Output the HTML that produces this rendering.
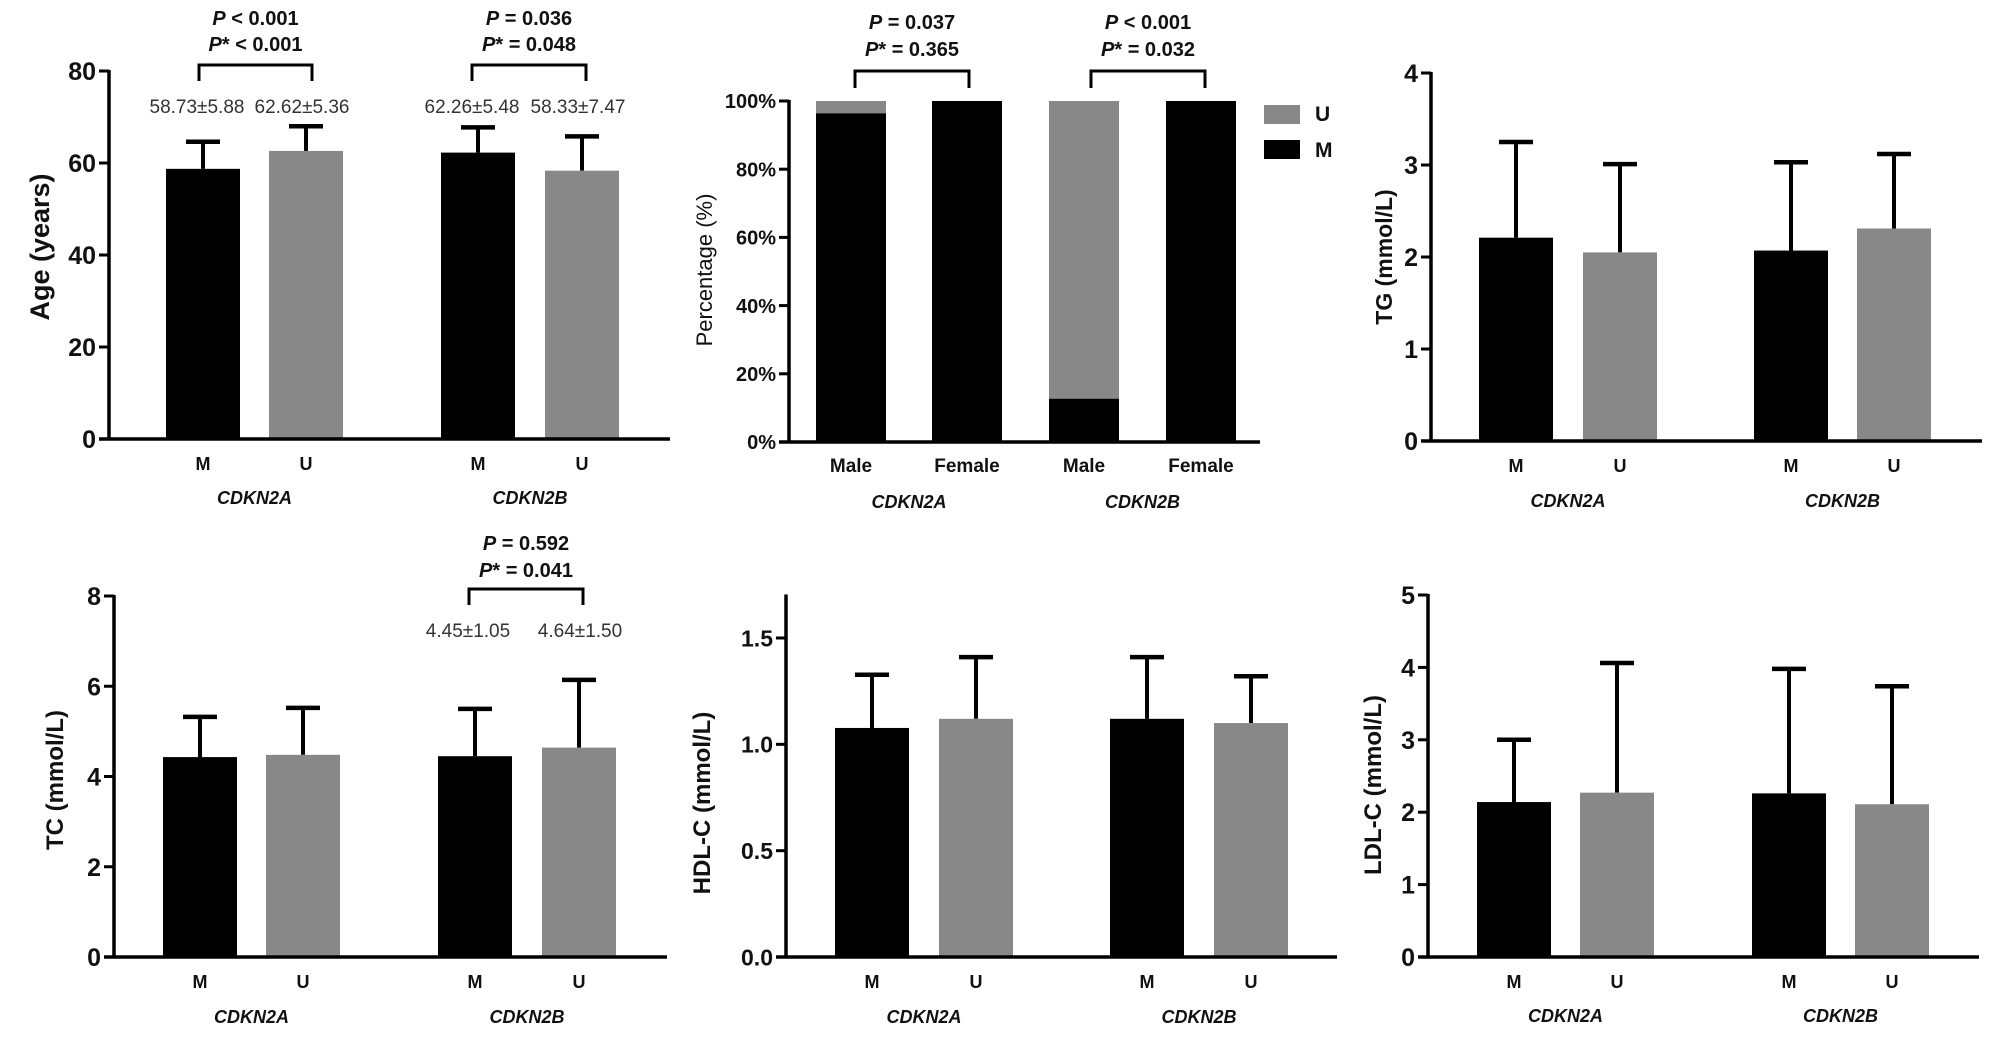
<!DOCTYPE html>
<html><head><meta charset="utf-8">
<style>
html,body{margin:0;padding:0;background:#fff;}
svg{display:block;font-family:"Liberation Sans",Arial,sans-serif;}
</style></head>
<body>
<svg id="fig" width="2008" height="1051" viewBox="0 0 2008 1051" xmlns="http://www.w3.org/2000/svg"></svg>
<script>
// ---- data ----
const groupCats = ["M","U","M","U"];
const geneCats = ["CDKN2A","CDKN2B"];
const ageMean = [58.73, 62.62, 62.26, 58.33];
const ageSD = [5.88, 5.36, 5.48, 7.47];
const ageTicks = [0,20,40,60,80];
const ageLabels = ["58.73±5.88","62.62±5.36","62.26±5.48","58.33±7.47"];
const sexCats = ["Male","Female","Male","Female"];
const pctM = [96.4, 100, 12.7, 100];
const pctTicks = [0,20,40,60,80,100];
const tgMean = [2.21, 2.05, 2.07, 2.31];
const tgSD = [1.04, 0.96, 0.96, 0.81];
const tgTicks = [0,1,2,3,4];
const tcMean = [4.43, 4.48, 4.45, 4.64];
const tcSD = [0.89, 1.04, 1.05, 1.50];
const tcTicks = [0,2,4,6,8];
const tcLabels = ["4.45±1.05","4.64±1.50"];
const hdlMean = [1.077, 1.12, 1.12, 1.10];
const hdlSD = [0.25, 0.29, 0.29, 0.22];
const hdlTicks = [0,0.5,1.0,1.5];
const hdlTickLabels = ["0.0","0.5","1.0","1.5"];
const ldlMean = [2.14, 2.27, 2.26, 2.11];
const ldlSD = [0.86, 1.79, 1.72, 1.63];
const ldlTicks = [0,1,2,3,4,5];

const NS="http://www.w3.org/2000/svg";
const svg=document.getElementById('fig');
function mk(tag,attrs,parent,text){
  const e=document.createElementNS(NS,tag);
  for(const k in attrs)e.setAttribute(k,attrs[k]);
  if(text!==undefined)e.textContent=text;
  (parent||svg).appendChild(e);return e;
}
const BLACK="#000", GRAY="#888888";

function axes(g,c){
  const ya=mk('line',{x1:c.ax,y1:c.yTopPx-1,x2:c.ax,y2:c.y0+1.5,stroke:BLACK,'stroke-width':3.5},g);
  
  
  const xa=mk('line',{x1:c.ax-10,y1:c.y0,x2:c.xEnd,y2:c.y0,stroke:BLACK,'stroke-width':3.5},g);
  
  
  c.ticks.forEach((t,i)=>{
    const y=c.ys(t);
    const tk=mk('line',{x1:c.ax-10,y1:y,x2:c.ax,y2:y,stroke:BLACK,'stroke-width':3},g);
    
    
    const lb=mk('text',{x:c.ax-13,y:y+c.tickFs*0.36,'text-anchor':'end','font-size':c.tickFs,'font-weight':'bold',fill:'#111'},g,c.tickLabels?c.tickLabels[i]:String(t));
    
    
  });
  const yl=mk('text',{x:0,y:0,'text-anchor':'middle','font-size':c.ylFs,'font-weight':c.ylBold?'bold':'normal',fill:'#111',transform:`translate(${c.ylx},${c.yly}) rotate(-90)`},g,c.ylabel);
  
  
  c.cats.forEach((cat,i)=>{
    const cx=c.bx[i]+c.bw/2;
    const t=mk('text',{x:cx,y:c.catY,'text-anchor':'middle','font-size':c.catFs,'font-weight':'bold',fill:'#111'},g,cat);
    
    
  });
  geneCats.forEach((gn,j)=>{
    const cx=(c.bx[2*j]+c.bx[2*j+1]+c.bw)/2;
    const t=mk('text',{x:cx,y:c.geneY,'text-anchor':'middle','font-size':18,'font-weight':'bold','font-style':'italic',fill:'#111'},g,gn);
    
    
  });
}

function barChart(c,means,sds,name){
  const g=mk('g',{});
  
  
  c.ys=v=>c.y0-(v/c.max)*(c.y0-c.yMaxPx);
  c.yTopPx=c.ys(c.axisTop!==undefined?c.axisTop:c.max);
  means.forEach((m,i)=>{
    const x=c.bx[i], top=c.ys(m), cx=x+c.bw/2, ey=c.ys(m+sds[i]);
    const el=mk('line',{x1:cx,y1:top,x2:cx,y2:ey,stroke:BLACK,'stroke-width':4},g);
    
    
    const cap=mk('line',{x1:cx-17,y1:ey,x2:cx+17,y2:ey,stroke:BLACK,'stroke-width':4.5},g);
    
    
    const r=mk('rect',{x:x,y:top,width:c.bw,height:c.y0-top,fill:i%2?GRAY:BLACK},g);
    
    
  });
  axes(g,c);
  return g;
}

function bracket(g,x1,x2,yt,yb,p1,p2,ty1,ty2,name){
  const b=mk('path',{d:`M${x1},${yb} V${yt} H${x2} V${yb}`,fill:'none',stroke:BLACK,'stroke-width':3},g);
  
  
  const cx=(x1+x2)/2;
  const t1=mk('text',{x:cx,y:ty1,'text-anchor':'middle','font-size':20,'font-weight':'bold',fill:'#111'},g);
  
  
  mk('tspan',{'font-style':'italic'},t1,'P');
  mk('tspan',{},t1,p1);
  const t2=mk('text',{x:cx,y:ty2,'text-anchor':'middle','font-size':20,'font-weight':'bold',fill:'#111'},g);
  
  
  mk('tspan',{'font-style':'italic'},t2,'P');
  mk('tspan',{},t2,p2);
}
function valLabel(g,x,y,s){
  const t=mk('text',{x:x,y:y,'text-anchor':'middle','font-size':19,fill:'#333'},g,s);
  
  
}

// Chart 1: Age
const c1={ax:109,y0:439,yMaxPx:71,max:80,ticks:ageTicks,tickFs:25,xEnd:670,bx:[166,269,441,545],bw:74,
  ylabel:"Age (years)",ylx:49,yly:247,ylFs:27,ylBold:true,cats:groupCats,catY:470,catFs:18,geneY:504};
const g1=barChart(c1,ageMean,ageSD,'age-chart');
bracket(g1,199,312,65,81," < 0.001","* < 0.001",25,51,'significance-bracket');
bracket(g1,472,586,65,81," = 0.036","* = 0.048",25,51,'significance-bracket');
ageLabels.forEach((s,i)=>valLabel(g1,c1.bx[i]+c1.bw/2+ (i%2?-4:-6),113,s));

// Chart 2: Percentage (stacked)
(function(){
  const g=mk('g',{});
  
  
  const c={ax:789,y0:442,yMaxPx:101,max:100,ticks:pctTicks,tickLabels:pctTicks.map(t=>t+'%'),tickFs:20,xEnd:1260,
    bx:[816,932,1049,1166],bw:70,ylabel:"Percentage (%)",ylx:712,yly:270,ylFs:22,ylBold:false,cats:sexCats,catY:472,catFs:19,geneY:508};
  c.ys=v=>c.y0-(v/c.max)*(c.y0-c.yMaxPx);
  c.yTopPx=c.ys(100);
  pctM.forEach((m,i)=>{
    const x=c.bx[i];
    const ru=mk('rect',{x:x,y:c.ys(100),width:c.bw,height:c.ys(m)-c.ys(100),fill:GRAY},g);
    
    
    const rm=mk('rect',{x:x,y:c.ys(m),width:c.bw,height:c.y0-c.ys(m),fill:BLACK},g);
    
    
  });
  axes(g,c);
  bracket(g,855,969,71,88," = 0.037","* = 0.365",29,56,'significance-bracket');
  bracket(g,1091,1205,71,88," < 0.001","* = 0.032",29,56,'significance-bracket');
  const l1=mk('rect',{x:1264,y:105,width:36,height:19,fill:GRAY},g);
  
  
  const l2=mk('rect',{x:1264,y:140,width:36,height:19,fill:BLACK},g);
  
  
  const t1=mk('text',{x:1315,y:121,'font-size':21,'font-weight':'bold',fill:'#111'},g,'U');
  
  
  const t2=mk('text',{x:1315,y:157,'font-size':21,'font-weight':'bold',fill:'#111'},g,'M');
  
  
})();

// Chart 3: TG
barChart({ax:1431,y0:441,yMaxPx:73,max:4,ticks:tgTicks,tickFs:25,xEnd:1982,bx:[1479,1583,1754,1857],bw:74,
  ylabel:"TG (mmol/L)",ylx:1392,yly:257,ylFs:23,ylBold:true,cats:groupCats,catY:472,catFs:18,geneY:507},tgMean,tgSD,'tg-chart');

// Chart 4: TC
const c4={ax:114,y0:957,yMaxPx:596,max:8,ticks:tcTicks,tickFs:25,xEnd:667,bx:[163,266,438,542],bw:74,
  ylabel:"TC (mmol/L)",ylx:63,yly:780,ylFs:24,ylBold:true,cats:groupCats,catY:988,catFs:18,geneY:1023};
const g4=barChart(c4,tcMean,tcSD,'tc-chart');
bracket(g4,469,583,589,605," = 0.592","* = 0.041",550,577,'significance-bracket');
valLabel(g4,468,637,tcLabels[0]);
valLabel(g4,580,637,tcLabels[1]);

// Chart 5: HDL-C
barChart({ax:786,y0:957,yMaxPx:638,max:1.5,axisTop:1.7,ticks:hdlTicks,tickLabels:hdlTickLabels,tickFs:23,xEnd:1337,bx:[835,939,1110,1214],bw:74,
  ylabel:"HDL-C (mmol/L)",ylx:710,yly:803,ylFs:24,ylBold:true,cats:groupCats,catY:988,catFs:18,geneY:1023},hdlMean,hdlSD,'hdl-chart');

// Chart 6: LDL-C
barChart({ax:1428,y0:957,yMaxPx:595,max:5,ticks:ldlTicks,tickFs:25,xEnd:1979,bx:[1477,1580,1752,1855],bw:74,
  ylabel:"LDL-C (mmol/L)",ylx:1381,yly:785,ylFs:24,ylBold:true,cats:groupCats,catY:988,catFs:18,geneY:1022},ldlMean,ldlSD,'ldl-chart');
</script>
</body></html>
